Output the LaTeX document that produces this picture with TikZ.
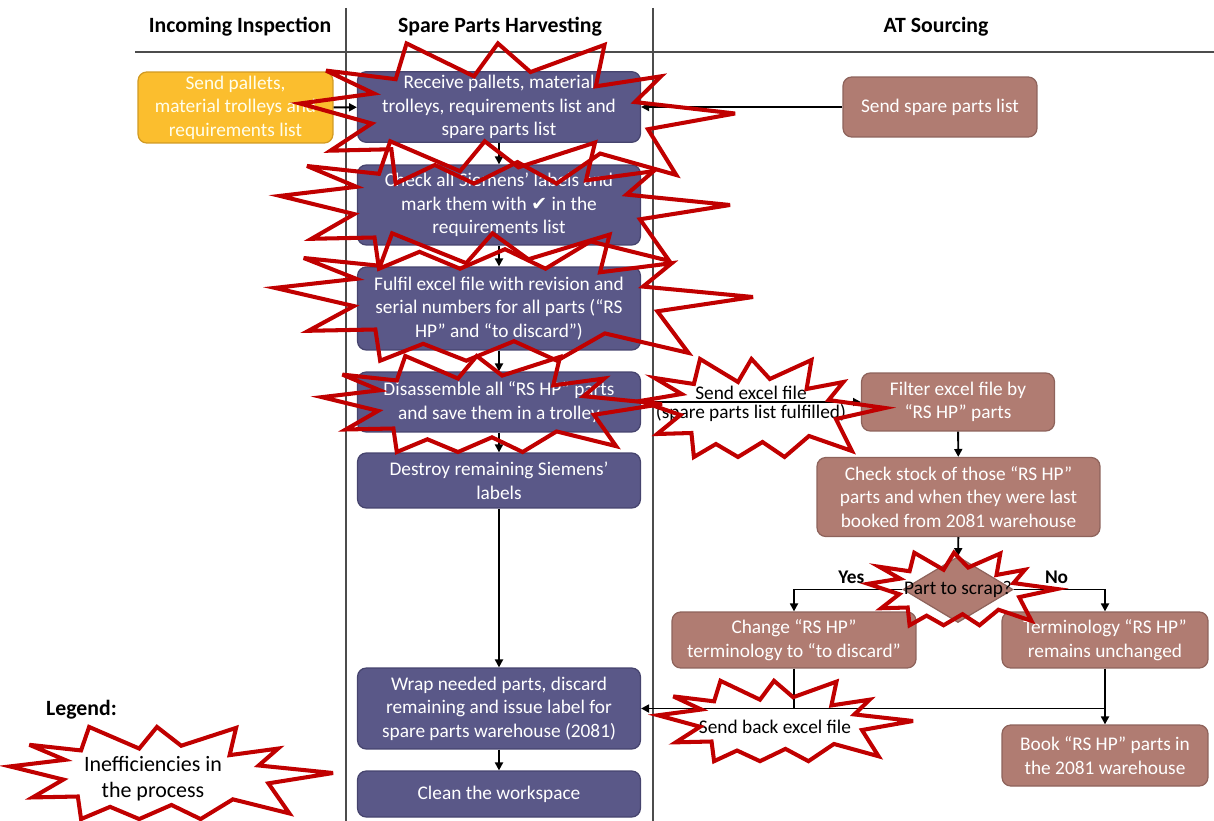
\documentclass[tikz,border=0pt]{standalone}
\usepackage{fontspec}
\setmainfont{Carlito}
\newfontfamily\symfont{DejaVu Sans}
\usepackage{xcolor}
\usepackage{tikz}
\usetikzlibrary{arrows.meta,positioning,shapes.geometric}
\definecolor{harvest}{HTML}{5A5888}
\definecolor{harvestline}{HTML}{46446E}
\definecolor{sourcing}{HTML}{B07C72}
\definecolor{sourcingline}{HTML}{8E635B}
\definecolor{inspect}{HTML}{FBBE2E}
\definecolor{inspectline}{HTML}{D19A22}
\definecolor{ineffred}{HTML}{C00000}
\tikzset{
  hbox/.style={draw=harvestline, fill=harvest, rounded corners=5pt, line width=0.7pt, align=center, text=white, minimum width=5.66cm, inner sep=2pt, font=\fontsize{11}{13.4}\selectfont},
  abox/.style={draw=sourcingline, fill=sourcing, rounded corners=5pt, line width=0.7pt, align=center, text=white, inner sep=2pt, font=\fontsize{11}{13.4}\selectfont},
  ibox/.style={draw=inspectline, fill=inspect, rounded corners=5pt, line width=0.7pt, align=center, text=white!92!yellow, inner sep=2pt, font=\fontsize{11}{13.4}\selectfont},
  decide/.style={draw=sourcingline, fill=sourcing, diamond, line width=0.7pt, inner sep=0pt, minimum width=2.2cm, minimum height=1.32cm},
  note/.style={align=center, inner sep=1pt, font=\fontsize{11}{13.4}\selectfont},
  yesno/.style={inner sep=1pt, font=\fontsize{11}{13.4}\selectfont\bfseries},
  lanehead/.style={font=\fontsize{12.4}{15}\selectfont\bfseries},
  lane/.style={draw=black!70, line width=0.6pt},
  flow/.style={-{Triangle[length=4.5pt,width=4.5pt]}, line width=1.1pt},
  wire/.style={line width=1.1pt},
  ineff/.style={draw=ineffred, line width=2.3pt, line join=miter, miter limit=6}
}
% explosion outline, fitted into a box (left, top, width, height)
\newcommand{\ineffburst}[4]{%
  \draw[ineff, shift={(#1,#2)}, xscale=#3, yscale=#4]
    (0,0.43) -- (0.17,0.36) -- (0.06,0.2) -- (0.22,0.26) -- (0.245,0.01) -- (0.40,0.24)
    -- (0.455,0.01) -- (0.53,0.21) -- (0.70,0.02) -- (0.68,0.31) -- (0.83,0.24) -- (0.77,0.42)
    -- (1,0.50) -- (0.80,0.61) -- (0.865,0.93) -- (0.69,0.78) -- (0.59,0.99) -- (0.50,0.84)
    -- (0.40,0.99) -- (0.31,0.86) -- (0.22,0.99) -- (0.21,0.75) -- (0.07,0.76) -- (0.165,0.57)
    -- cycle;}

\begin{document}
\begin{tikzpicture}[x=0.02cm,y=-0.02cm]
\useasboundingbox (0,0) rectangle (1214,821);

% swimlanes
\draw[lane] (135,52) -- (1214,52);
\draw[lane] (346,8) -- (346,821);
\draw[lane] (653,8) -- (653,821);
\node[lanehead] (hinspect) at (240,27) {Incoming Inspection};
\node[lanehead] (hharvest) at (500,27) {Spare Parts Harvesting};
\node[lanehead] (hsource) at (936,27) {AT Sourcing};

% process steps
\node[ibox, minimum width=3.9cm, minimum height=1.42cm] (pallets) at (235.5,107.5) {Send pallets,\\material trolleys and\\requirements list};
\node[hbox, minimum height=1.4cm] (receive) at (499,107) {Receive pallets, material\\trolleys, requirements list and\\spare parts list};
\node[abox, minimum width=3.88cm, minimum height=1.2cm] (sparelist) at (940,107) {Send spare parts list};
\node[hbox, minimum height=1.6cm] (labels) at (499,205) {Check all Siemens’ labels and\\mark them with {\symfont ✔} in the\\requirements list};
\node[hbox, minimum height=1.66cm] (serials) at (499,308.5) {Fulfil excel file with revision and\\serial numbers for all parts (“RS\\HP” and “to discard”)};
\node[hbox, minimum height=1.2cm] (disassemble) at (499,402) {Disassemble all “RS HP” parts\\and save them in a trolley};
\node[hbox, minimum height=1.1cm] (destroy) at (499,480.5) {Destroy remaining Siemens’\\labels};
\node[hbox, minimum height=1.62cm] (wrap) at (499,708.5) {Wrap needed parts, discard\\remaining and issue label for\\spare parts warehouse (2081)};
\node[hbox, minimum height=0.92cm] (clean) at (499,794) {Clean the workspace};
\node[abox, minimum width=3.86cm, minimum height=1.16cm] (filter) at (958,402) {Filter excel file by\\“RS HP” parts};
\node[abox, minimum width=5.66cm, minimum height=1.58cm] (stock) at (958.5,497) {Check stock of those “RS HP”\\parts and when they were last\\booked from 2081 warehouse};
\node[decide] (scrap) at (958,589.5) {};
\node[note] (scraptext) at (scrap.center) {Part to scrap?};
\node[abox, minimum width=4.88cm, minimum height=1.12cm] (change) at (794,640) {Change “RS HP”\\terminology to “to discard”};
\node[abox, minimum width=4.12cm, minimum height=1.12cm] (keep) at (1105,640) {Terminology “RS HP”\\remains unchanged};
\node[abox, minimum width=4.12cm, minimum height=1.22cm] (book) at (1105,755.5) {Book “RS HP” parts in\\the 2081 warehouse};

% connectors
\draw[flow] (pallets) -- (receive);
\draw[flow] (sparelist) -- (receive);
\draw[flow] (receive) -- (labels);
\draw[flow] (labels) -- (serials);
\draw[flow] (serials) -- (disassemble);
\draw[flow] (disassemble) -- (destroy);
\draw[flow] (destroy) -- (wrap);
\draw[flow] (wrap) -- (clean);
\draw[flow] (disassemble) -- node[note, above=0pt] (sendxl) {Send excel file}
  node[note, below=0pt] (xlfilled) {(spare parts list fulfilled)} (filter);
\draw[flow] (filter) -- (stock);
\draw[flow] (stock) -- (scrap);
\draw[flow] (scrap.west) -| node[yesno, above=2pt, pos=0.235] (yes) {Yes} (change.north);
\draw[flow] (scrap.east) -| node[yesno, above=2pt, pos=0.235] (no) {No} (keep.north);
\draw[flow] (keep) -- (book);
\draw[flow] (change.south) |- (wrap.east);
\draw[wire] (change.south |- wrap.east) -- (keep.south |- wrap.east);
\node[note] (sendback) at (775,727) {Send back excel file};

% legend
\node[lanehead, anchor=west] (legend) at (40,710) {Legend:};
\node[note, font=\fontsize{12.5}{14.8}\selectfont] (legendtext) at (153,779) {Inefficiencies in\\the process};

% inefficiencies
\ineffburst{300}{42}{435}{143}
\ineffburst{280}{140}{450}{130}
\ineffburst{275}{232}{478}{130}
\ineffburst{322}{355}{340}{98}
\ineffburst{640}{358}{245}{100}
\ineffburst{868}{552}{189}{74}
\ineffburst{658}{680}{255}{82}
\ineffburst{10}{726}{323}{94}
\end{tikzpicture}
\end{document}
